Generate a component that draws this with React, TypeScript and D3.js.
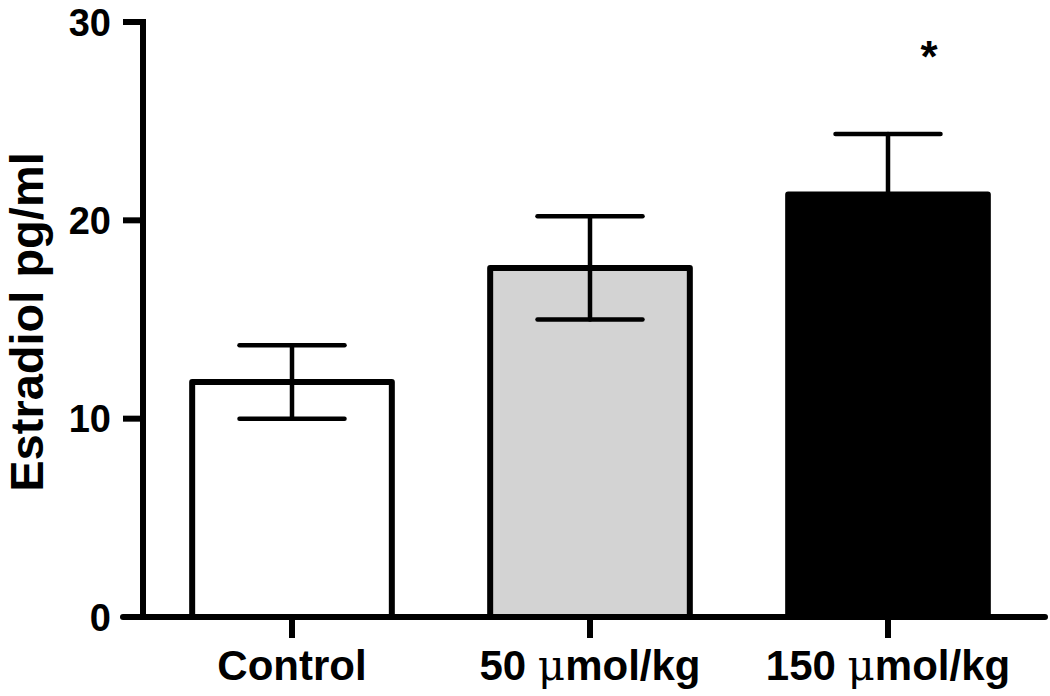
import React from "react";
import * as d3 from "d3";

const categories = ["Control", "50 μmol/kg", "150 μmol/kg"];
const means = [11.85, 17.6, 21.3];
const errors = [1.85, 2.6, 3.05];
const fills = ["#ffffff", "#d3d3d3", "#000000"];
const yTicks = [0, 10, 20, 30];
const significance = ["", "", "*"];

const W = 1050;
const H = 696;
const FONT = "Liberation Sans, Arial, Helvetica, sans-serif";

export default function App() {
  const x = d3.scaleBand<string>().domain(categories).range([143, 1037]).paddingInner(0.33).paddingOuter(0.165);
  const y = d3.scaleLinear().domain([0, 30]).range([617, 22]);
  const bw = x.bandwidth();
  const capW = 105;

  const renderLabel = (c: string) => {
    const idx = c.indexOf("μ");
    if (idx < 0) return c;
    return (
      <>
        {c.slice(0, idx)}
        <tspan fontFamily="DejaVu Serif, Liberation Serif, serif" fontWeight="normal">μ</tspan>
        {c.slice(idx + 1)}
      </>
    );
  };

  return (
    <svg width={W} height={H} style={{ position: "absolute", left: 0, top: 0, background: "#fff" }}>
      {/* bars */}
      {categories.map((c, i) => (
        <rect key={c} x={x(c)!} y={y(means[i])} width={bw} height={y(0) - y(means[i])}
          fill={fills[i]} stroke="#000" strokeWidth={6} strokeLinejoin="round" />
      ))}
      {/* error bars */}
      {categories.map((c, i) => {
        const cx = x(c)! + bw / 2;
        const hi = y(means[i] + errors[i]);
        const lo = y(means[i] - errors[i]);
        return (
          <g key={"e" + c} stroke="#000" strokeWidth={4.5} strokeLinecap="round">
            <line x1={cx} x2={cx} y1={hi} y2={lo} />
            <line x1={cx - capW / 2} x2={cx + capW / 2} y1={hi} y2={hi} />
            <line x1={cx - capW / 2} x2={cx + capW / 2} y1={lo} y2={lo} />
          </g>
        );
      })}
      {/* significance */}
      {categories.map((c, i) =>
        significance[i] ? (
          <text key={"s" + c} x={x(c)! + bw / 2 + 41} y={y(means[i] + errors[i]) - 62}
            fontFamily={FONT} fontWeight="bold" fontSize={44} textAnchor="middle">{significance[i]}</text>
        ) : null
      )}
      {/* y axis */}
      <line x1={143} x2={143} y1={y(30) - 3} y2={y(0)} stroke="#000" strokeWidth={6} />
      {yTicks.map((t) => (
        <g key={t}>
          <line x1={123} x2={143} y1={y(t)} y2={y(t)} stroke="#000" strokeWidth={6} />
          <text x={111} y={y(t)} dy="0.36em" textAnchor="end" fontFamily={FONT} fontWeight="bold" fontSize={38}>{t}</text>
        </g>
      ))}
      {/* x axis */}
      <line x1={123} x2={1045} y1={y(0)} y2={y(0)} stroke="#000" strokeWidth={6} strokeLinecap="round" />
      {categories.map((c) => {
        const cx = x(c)! + bw / 2;
        return (
          <g key={"x" + c}>
            <line x1={cx} x2={cx} y1={y(0)} y2={y(0) + 21} stroke="#000" strokeWidth={6} />
            <text x={cx} y={680} textAnchor="middle" fontFamily={FONT} fontWeight="bold" fontSize={42}>{renderLabel(c)}</text>
          </g>
        );
      })}
      {/* y label */}
      <text transform={`translate(43, 322) rotate(-90)`} textAnchor="middle" fontFamily={FONT} fontWeight="bold" fontSize={47}>Estradiol pg/ml</text>
    </svg>
  );
}
